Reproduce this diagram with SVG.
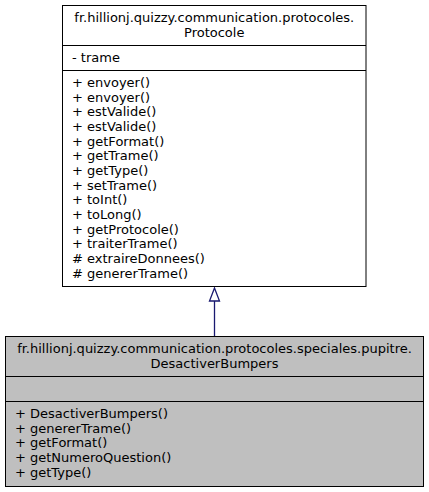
<svg xmlns="http://www.w3.org/2000/svg" width="429" height="492" viewBox="0 0 429 492">
<style>
text{font-family:"DejaVu Sans","Liberation Sans",sans-serif;font-size:13px;fill:#000}
.c{text-anchor:middle}
.box{stroke:#000;stroke-width:1}
.div{stroke:#000;stroke-width:1}
.edge{stroke:#191970;stroke-width:1.3;fill:none}
.head{stroke:#191970;stroke-width:1.3;fill:#fff}
</style>
<rect width="429" height="492" fill="#fff"/>
<g id="connectors">
<line class="edge" x1="214.5" y1="336.5" x2="214.5" y2="301"/>
<polygon class="head" points="214.5,288 209.5,301 219.5,301"/>
</g>
<g id="Protocole">
<rect class="box" x="62.5" y="5.5" width="303.5" height="281" fill="#fff"/>
<line class="div" x1="62.5" y1="45.5" x2="366" y2="45.5"/>
<line class="div" x1="62.5" y1="70.5" x2="366" y2="70.5"/>
<text class="c" x="214.25" y="22">fr.hillionj.quizzy.communication.protocoles.</text>
<text class="c" x="214.25" y="36.7">Protocole</text>
<text x="72" y="62">- trame</text>
<text x="72" y="87">+ envoyer()</text>
<text x="72" y="101.67">+ envoyer()</text>
<text x="72" y="116.33">+ estValide()</text>
<text x="72" y="131">+ estValide()</text>
<text x="72" y="145.67">+ getFormat()</text>
<text x="72" y="160.33">+ getTrame()</text>
<text x="72" y="175">+ getType()</text>
<text x="72" y="189.67">+ setTrame()</text>
<text x="72" y="204.33">+ toInt()</text>
<text x="72" y="219">+ toLong()</text>
<text x="72" y="233.67">+ getProtocole()</text>
<text x="72" y="248.33">+ traiterTrame()</text>
<text x="72" y="263"># extraireDonnees()</text>
<text x="72" y="277.67"># genererTrame()</text>
</g>
<g id="DesactiverBumpers">
<rect class="box" x="5.5" y="336.5" width="418" height="150" fill="#bfbfbf"/>
<line class="div" x1="5.5" y1="376.5" x2="423.5" y2="376.5"/>
<line class="div" x1="5.5" y1="401.5" x2="423.5" y2="401.5"/>
<text class="c" x="214.5" y="353">fr.hillionj.quizzy.communication.protocoles.speciales.pupitre.</text>
<text class="c" x="214.5" y="367.7">DesactiverBumpers</text>
<text x="15" y="418">+ DesactiverBumpers()</text>
<text x="15" y="432.67">+ genererTrame()</text>
<text x="15" y="447.33">+ getFormat()</text>
<text x="15" y="462">+ getNumeroQuestion()</text>
<text x="15" y="476.67">+ getType()</text>
</g>
</svg>
